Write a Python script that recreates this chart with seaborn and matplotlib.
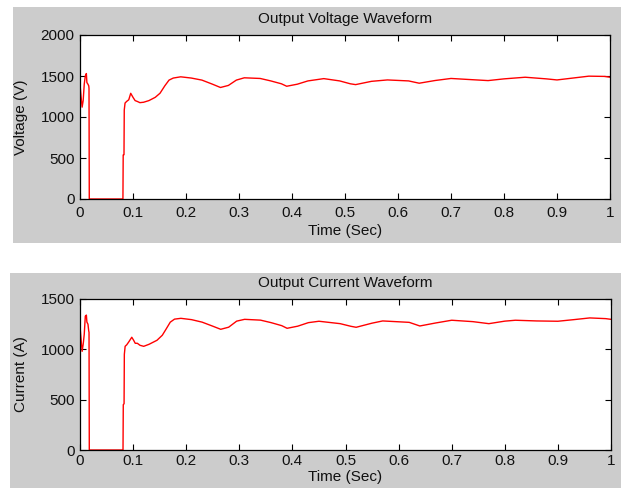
import numpy as np
import pandas as pd
import seaborn as sns
import matplotlib
matplotlib.use("Agg")
import matplotlib.pyplot as plt
from matplotlib.patches import Rectangle

# ---- data ----
v_time = [0.0, 0.002, 0.004, 0.006, 0.008, 0.010, 0.012, 0.013, 0.015, 0.0165, 0.017,
          0.0175, 0.050, 0.081, 0.0815, 0.083, 0.0835, 0.085, 0.088, 0.092, 0.0957,
          0.100, 0.104, 0.108, 0.113, 0.120, 0.130, 0.142, 0.151, 0.160, 0.168,
          0.176, 0.190, 0.210, 0.230, 0.250, 0.265, 0.280, 0.295, 0.310, 0.340,
          0.360, 0.380, 0.390, 0.410, 0.430, 0.460, 0.490, 0.510, 0.520, 0.550,
          0.580, 0.620, 0.640, 0.670, 0.700, 0.740, 0.770, 0.800, 0.840, 0.880,
          0.900, 0.930, 0.960, 0.990, 1.000]
voltage = [1400, 1250, 1120, 1200, 1400, 1500, 1530, 1420, 1400, 1380, 1350,
           0, 0, 0, 537, 540, 1085, 1170, 1190, 1210, 1289,
           1240, 1200, 1190, 1175, 1180, 1200, 1240, 1290, 1380, 1450,
           1475, 1490, 1475, 1450, 1400, 1360, 1385, 1450, 1478, 1470,
           1440, 1405, 1375, 1400, 1440, 1468, 1440, 1405, 1395, 1435,
           1452, 1440, 1412, 1445, 1470, 1455, 1444, 1465, 1485, 1465,
           1452, 1475, 1498, 1495, 1485]

c_time = [0.0, 0.002, 0.004, 0.006, 0.008, 0.010, 0.012, 0.013, 0.015, 0.0165, 0.017,
          0.0175, 0.050, 0.081, 0.0815, 0.083, 0.0835, 0.085, 0.088, 0.092, 0.0975,
          0.101, 0.104, 0.108, 0.113, 0.120, 0.130, 0.145, 0.155, 0.162, 0.170,
          0.178, 0.190, 0.210, 0.230, 0.250, 0.265, 0.280, 0.295, 0.310, 0.340,
          0.360, 0.380, 0.390, 0.410, 0.430, 0.450, 0.490, 0.510, 0.520, 0.550,
          0.570, 0.620, 0.640, 0.670, 0.700, 0.740, 0.770, 0.800, 0.820, 0.860,
          0.900, 0.930, 0.960, 0.990, 1.000]
current = [1230, 1100, 980, 1050, 1150, 1330, 1340, 1270, 1250, 1180, 1170,
           0, 0, 0, 450, 460, 950, 1030, 1045, 1075, 1120,
           1090, 1060, 1060, 1040, 1030, 1050, 1090, 1140, 1200, 1270,
           1300, 1308, 1295, 1270, 1230, 1199, 1220, 1280, 1298, 1290,
           1265, 1235, 1209, 1230, 1265, 1279, 1255, 1229, 1219, 1260,
           1282, 1268, 1232, 1262, 1289, 1275, 1255, 1280, 1289, 1282,
           1279, 1295, 1312, 1305, 1298]

x_ticks = [0, 0.1, 0.2, 0.3, 0.4, 0.5, 0.6, 0.7, 0.8, 0.9, 1]
x_ticklabels = ["0", "0.1", "0.2", "0.3", "0.4", "0.5", "0.6", "0.7", "0.8", "0.9", "1"]
v_ticks = [0, 500, 1000, 1500, 2000]
c_ticks = [0, 500, 1000, 1500]

# ---- style ----
sns.set_style("ticks")
plt.rcParams["font.family"] = ["Liberation Sans", "DejaVu Sans"]
plt.rcParams["xtick.direction"] = "in"
plt.rcParams["ytick.direction"] = "in"

W, H = 621, 488
fig = plt.figure(figsize=(W / 100, H / 100), dpi=100)
fig.patch.set_facecolor("white")

def fx(px):
    return px / W

def fy(py):
    return 1 - py / H

# grey panels (MATLAB-style figure background)
fig.patches.append(Rectangle((fx(13), fy(243)), fx(621 - 13), (243 - 7) / H,
                             transform=fig.transFigure, facecolor="#cccccc",
                             edgecolor="none", zorder=-10))
fig.patches.append(Rectangle((fx(10), fy(488)), fx(621 - 10), (488 - 273) / H,
                             transform=fig.transFigure, facecolor="#cccccc",
                             edgecolor="none", zorder=-10))

ax1 = fig.add_axes([fx(80), fy(199), fx(610 - 80), (199 - 35) / H])
ax2 = fig.add_axes([fx(80), fy(450), fx(611 - 80), (450 - 299) / H])
ax1.set_zorder(5)
ax2.set_zorder(5)

df_v = pd.DataFrame({"Time": v_time, "Value": voltage})
df_c = pd.DataFrame({"Time": c_time, "Value": current})

sns.lineplot(data=df_v, x="Time", y="Value", ax=ax1, color="#ff0000",
             linewidth=1.0, estimator=None, sort=False)
sns.lineplot(data=df_c, x="Time", y="Value", ax=ax2, color="#ff0000",
             linewidth=1.0, estimator=None, sort=False)

fs = 11
for ax, yt, ylim, title, ylabel, tpad, xlpad, xtpad in [
        (ax1, v_ticks, (0, 2000), "Output Voltage Waveform", "Voltage (V)", 9, 3, 5),
        (ax2, c_ticks, (0, 1500), "Output Current Waveform", "Current (A)", 9, 1, 3)]:
    ax.set_facecolor("white")
    ax.set_xlim(0, 1)
    ax.set_ylim(*ylim)
    ax.set_xticks(x_ticks)
    ax.set_xticklabels(x_ticklabels)
    ax.set_yticks(yt)
    ax.tick_params(axis="both", which="both", direction="in", top=True, right=True,
                   length=4, width=0.8, color="black", labelsize=fs,
                   labelcolor="#111111")
    ax.tick_params(axis="x", pad=xtpad)
    ax.tick_params(axis="y", pad=4)
    for s in ax.spines.values():
        s.set_visible(True)
        s.set_color("black")
        s.set_linewidth(0.9)
    ax.set_title(title, fontsize=fs, pad=tpad, color="#111111")
    ax.set_xlabel("Time (Sec)", fontsize=fs, labelpad=xlpad, color="#111111")
    ax.set_ylabel(ylabel, fontsize=fs, labelpad=9, color="#111111")
    ax.grid(False)

fig.savefig("out.png", dpi=100, facecolor=fig.get_facecolor())
